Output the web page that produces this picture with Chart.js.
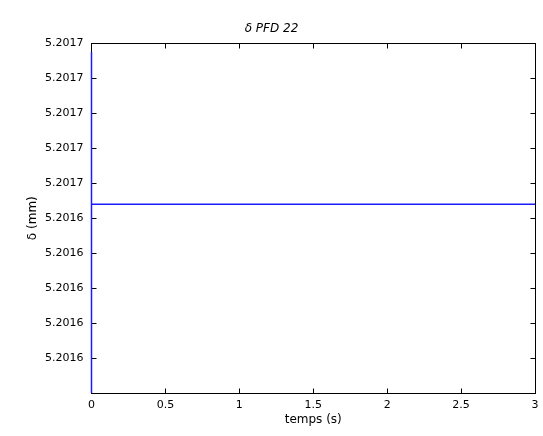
<!DOCTYPE html>
<html>
<head>
<meta charset="utf-8">
<script src="https://cdn.jsdelivr.net/npm/chart.js@4/dist/chart.umd.min.js"></script>
<style>
  html, body { margin: 0; padding: 0; background: #fff; }
  #wrap { width: 543px; height: 436px; }
</style>
</head>
<body>
<div id="wrap"><canvas id="chart1"></canvas></div>
<script>
// time samples (s) and displacement delta (mm)
const timeValues = [0, 0, 0, 3];
const deltaValues = [5.201630, 5.2016585, 5.2016498, 5.2016498];

const xTickValues = [0, 0.5, 1, 1.5, 2, 2.5, 3];
const yTickValues = [5.201659, 5.201657, 5.201655, 5.201653, 5.201651,
                     5.201649, 5.201647, 5.201645, 5.201643, 5.201641];
const yMin = 5.201639;
const yMax = 5.201659;

const chartTitle = 'δ PFD 22';
const xTitle = 'temps (s)';
const yTitle = 'δ (mm)';

const points = timeValues.map((t, i) => ({ x: t, y: deltaValues[i] }));

// matlab style box with inward ticks
const boxPlugin = {
    id: 'box',
    beforeDatasetsDraw(chart) {
        const { ctx, chartArea: a, scales } = chart;
        const len = 5;
        const l = Math.floor(a.left) + 0.5, r = Math.floor(a.right) + 0.5;
        const t = Math.floor(a.top) + 0.5, b = Math.floor(a.bottom) + 0.5;
        ctx.save();
        ctx.strokeStyle = '#000';
        ctx.lineWidth = 1;
        ctx.strokeRect(l, t, r - l, b - t);
        ctx.beginPath();
        xTickValues.forEach(v => {
            const px = Math.floor(scales.x.getPixelForValue(v)) + 0.5;
            ctx.moveTo(px, b); ctx.lineTo(px, b - len);
            ctx.moveTo(px, t); ctx.lineTo(px, t + len);
        });
        yTickValues.forEach(v => {
            const py = Math.floor(scales.y.getPixelForValue(v)) + 0.5;
            ctx.moveTo(l, py); ctx.lineTo(l + len, py);
            ctx.moveTo(r, py); ctx.lineTo(r - len, py);
        });
        ctx.stroke();
        ctx.restore();
    }
};

const chart1Ctx = document.getElementById('chart1').getContext('2d');
const chart1 = new Chart(chart1Ctx, {
    type: 'scatter',
    data: {
        datasets: [{
            label: 'delta',
            data: points,
            showLine: true,
            borderColor: '#1a1aff',
            borderWidth: 1.5,
            pointRadius: 0,
            tension: 0,
            fill: false,
            clip: { left: 2, top: 0, right: 0, bottom: 0 }
        }]
    },
    options: {
        responsive: true,
        maintainAspectRatio: false,
        animation: false,
        layout: { padding: 0 },
        plugins: {
            legend: { display: false },
            tooltip: { enabled: false },
            title: {
                display: true,
                text: chartTitle,
                color: '#000',
                font: { family: 'DejaVu Sans', size: 12, style: 'italic', weight: 'normal' },
                padding: { top: 22, bottom: 7 }
            }
        },
        scales: {
            x: {
                type: 'linear',
                min: 0,
                max: 3,
                grid: { display: false, drawTicks: false },
                border: { display: false },
                afterBuildTicks: s => { s.ticks = xTickValues.map(v => ({ value: v })); },
                afterFit: s => { s.height = 43; s.paddingLeft = 0; s.paddingRight = 8; },
                ticks: {
                    color: '#000',
                    padding: 6,
                    maxRotation: 0,
                    font: { family: 'DejaVu Sans', size: 11 },
                    callback: v => String(v)
                },
                title: {
                    display: true,
                    text: xTitle,
                    color: '#000',
                    font: { family: 'DejaVu Sans', size: 12 },
                    padding: { top: 0, bottom: 9 }
                }
            },
            y: {
                type: 'linear',
                min: yMin,
                max: yMax,
                grid: { display: false, drawTicks: false },
                border: { display: false },
                afterBuildTicks: s => { s.ticks = yTickValues.map(v => ({ value: v })); },
                afterFit: s => { s.width = 91.5; },
                ticks: {
                    color: '#000',
                    padding: 8,
                    font: { family: 'DejaVu Sans', size: 11 },
                    callback: v => Number(v).toFixed(4)
                },
                title: {
                    display: true,
                    text: yTitle,
                    color: '#000',
                    font: { family: 'DejaVu Sans', size: 12 },
                    padding: { top: 26, bottom: 0 }
                }
            }
        }
    },
    plugins: [boxPlugin]
});
</script>
</body>
</html>
